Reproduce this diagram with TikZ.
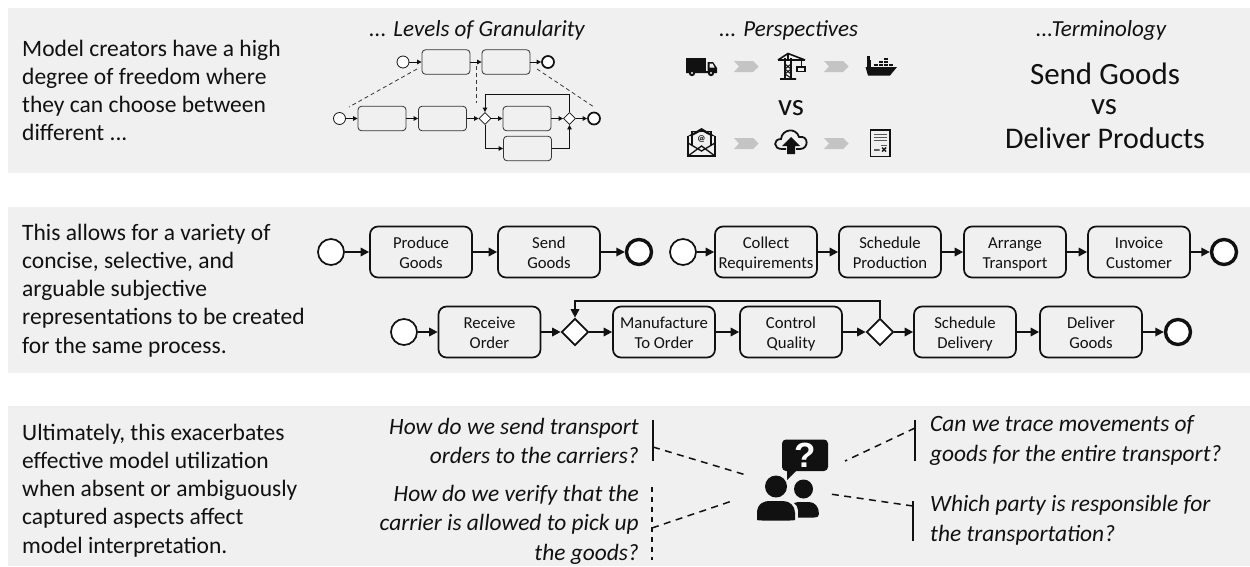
\documentclass[tikz,border=0pt]{standalone}
\usepackage{fontspec}
\setmainfont{Carlito}
\newfontfamily\qmfont{Liberation Sans}
\usetikzlibrary{arrows.meta,shapes.geometric}
\definecolor{panel}{HTML}{F0F0F0}
\definecolor{chev}{HTML}{C4C4C4}
\definecolor{ink}{HTML}{111111}
\newcommand\tasklines[2]{\rule{0pt}{18pt}#1\\#2\rule[-6pt]{0pt}{6pt}}
\tikzset{
 panelbox/.style={fill=panel,draw=none},
 body/.style={font=\fontsize{23.5}{28.2}\selectfont,align=left,anchor=west,text=ink,inner sep=0pt},
 hdr/.style={font=\fontsize{23}{26}\selectfont\itshape,anchor=center,text=ink,inner sep=0pt},
 qr/.style={font=\fontsize{23.4}{29.5}\selectfont\itshape,align=right,anchor=east,text=ink,inner sep=0pt},
 ql/.style={font=\fontsize{23.4}{29.5}\selectfont\itshape,align=left,anchor=west,text=ink,inner sep=0pt},
 bigt/.style={font=\fontsize{31}{36}\selectfont,anchor=center,text=ink,inner sep=0pt},
 task/.style={draw=ink,line width=1.7pt,rounded corners=8pt,minimum width=102pt,minimum height=51pt,align=center,font=\fontsize{16.7}{20}\selectfont,text=ink,inner sep=0pt},
 sev/.style={circle,draw=ink,line width=1.7pt,minimum size=26pt,inner sep=0pt,fill=white},
 eev/.style={circle,draw=ink,line width=3.4pt,minimum size=25pt,inner sep=0pt,fill=white},
 gwbox/.style={draw=ink,line width=1.7pt,diamond,aspect=1,minimum width=27pt,minimum height=27pt,inner sep=0pt,fill=white},
 flow/.style={draw=ink,line width=1.7pt,-{Triangle[length=8.5pt,width=8.5pt]}},
 stask/.style={draw=ink!85,line width=.8pt,rounded corners=3.5pt,minimum width=48pt,minimum height=24.5pt,inner sep=0pt},
 ssev/.style={circle,draw=ink,line width=.8pt,minimum size=12pt,inner sep=0pt,fill=white},
 seev/.style={circle,draw=ink,line width=1.7pt,minimum size=12pt,inner sep=0pt,fill=white},
 sgw/.style={draw=ink,line width=.8pt,diamond,aspect=1,minimum width=12pt,minimum height=12pt,inner sep=0pt,fill=white},
 sflow/.style={draw=ink,line width=.8pt,-{Triangle[length=4.5pt,width=4.5pt]}},
 sdash/.style={draw=ink!85,line width=.8pt,dash pattern=on 4pt off 3pt},
 qdash/.style={draw=ink,line width=1.5pt,dash pattern=on 7pt off 5.5pt},
 brk/.style={draw=ink,line width=1.5pt},
 brkd/.style={draw=ink,line width=1.5pt,dash pattern=on 5pt off 5pt},
 chevron/.style={fill=chev,draw=none},
 icon/.style={fill=ink,draw=none},
}
\begin{document}
\begin{tikzpicture}[x=1pt,y=-1pt]
\useasboundingbox (0,0) rectangle (1250,566);
\fill[white] (0,0) rectangle (1250,566);
\fill[panelbox] (8,8) rectangle (1250,173);
\fill[panelbox] (8,207) rectangle (1250,373);
\fill[panelbox] (8,406) rectangle (1250,566);

% left texts
\node[body] (t1) at (22,90.5) {Model creators have a high\\degree of freedom where\\they can choose between\\different ...};
\node[body] (t2) at (22,290.5) {This allows for a variety of\\concise, selective, and\\arguable subjective\\representations to be created\\for the same process.};
\node[body] (t3) at (22,490.5) {Ultimately, this exacerbates\\effective model utilization\\when absent or ambiguously\\captured aspects affect\\model interpretation.};

% headers
\node[hdr] (h1) at (477,30) {... Levels of Granularity};
\node[hdr] (h2) at (788.5,30) {... Perspectives};
\node[hdr] (h3) at (1101,30) {...Terminology};

% granularity sketch
\node[ssev] (as) at (403,62) {};
\node[stask] (a1) at (446,62) {};
\node[stask] (a2) at (506,62) {};
\node[seev] (ae) at (548,62) {};
\draw[sflow] (as)--(a1);
\draw[sflow] (a1)--(a2);
\draw[sflow] (a2)--(ae);
\node[ssev] (bs) at (339.5,118.5) {};
\node[stask] (b1) at (382,118.5) {};
\node[stask] (b2) at (442.5,118.5) {};
\node[sgw] (bg1) at (485,118.5) {};
\node[stask] (b3) at (527,118.5) {};
\node[sgw] (bg2) at (569.5,118.5) {};
\node[seev] (be) at (594,118.5) {};
\node[stask] (b4) at (527.5,148.5) {};
\draw[sflow] (bs)--(b1);
\draw[sflow] (b1)--(b2);
\draw[sflow] (b2)--(bg1);
\draw[sflow] (bg1)--(b3);
\draw[sflow] (b3)--(bg2);
\draw[sflow] (bg2)--(be);
\draw[sflow] (bg2.north)--(569.5,94)--(485,94)--(bg1.north);
\draw[sflow] (bg1.south)|-(b4.west);
\draw[sflow] (b4.east)-|(bg2.south);
\coordinate (d1a) at (417,69); \coordinate (d1b) at (349,107);
\coordinate (d2a) at (476,66); \coordinate (d2b) at (476,103);
\coordinate (d3a) at (537,69); \coordinate (d3b) at (594,107);
\draw[sdash] (d1a)--(d1b);
\draw[sdash] (d2a)--(d2b);
\draw[sdash] (d3a)--(d3b);

% chevrons
\foreach \x/\y in {734/61,824/61,734/138,824/138}{
 \fill[chevron] (\x,\y)--(\x+19,\y)--(\x+24.5,\y+5.5)--(\x+19,\y+11)--(\x,\y+11)--(\x+5,\y+5.5)--cycle;
}
% truck
\fill[icon] (686,58) rectangle (706,71.5);
\fill[icon] (707.5,62) -- (713,62) -- (717,68) -- (717,73) -- (686,73) -- (686,71) -- (707.5,71)--cycle;
\fill[panel] (709.5,63.5)--(712.5,63.5)--(714.5,67.5)--(709.5,67.5)--cycle;
\fill[icon] (692,73) circle (3.2); \fill[icon] (711,73) circle (3.2);
\fill[panel] (692,73) circle (1.2); \fill[panel] (711,73) circle (1.2);
% crane
\draw[draw=ink,line width=1.6pt] (778,60)--(805,60) (785,58)--(785,78) (791,58)--(791,78);
\draw[draw=ink,line width=1.6pt] (778,60)--(788,53.5)--(805,60) (780,79)--(796,79) (788,53)--(788,60);
\draw[draw=ink,line width=1pt] (785,64)--(791,69)--(785,74)--(791,78) (791,64)--(785,69)--(791,74);
\draw[draw=ink,line width=.9pt] (801,60)--(801,66);
\draw[draw=ink,line width=1.1pt] (797,67) rectangle (805,71.5);
% ship
\fill[icon] (865.5,67)--(897,67)--(890,75.5)--(868,75.5)--cycle;
\fill[icon] (866.5,60)rectangle(871,67); \fill[icon] (867,56)rectangle(870,60);
\foreach \x/\y in {874/63.5,879/63.5,884/63.5,889/63.5,879/60.5,884/60.5,884/57.5}{\fill[icon] (\x,\y) rectangle +(3.6,2.4);}
% mail
\draw[draw=ink,line width=1.6pt,fill=none] (688,136)--(688,156)--(715,156)--(715,136);
\draw[draw=ink,line width=1.3pt,fill=panel] (692,146)--(692,131.5)--(711,131.5)--(711,146);
\fill[icon] (688,136)--(701.5,128)--(715,136)--(711,136)--(701.5,131)--(692,136)--cycle;
\draw[draw=ink,line width=1.3pt] (688,156)--(701.5,146)--(715,156) (688,143)--(701.5,151)--(715,143);
\node[font=\fontsize{9}{9}\selectfont\bfseries,inner sep=0pt,text=ink] (mailat) at (701.5,139) {@};
% cloud
\draw[draw=ink,line width=1.8pt,fill=none] (786,149)--(782,149) .. controls (773,149) and (773,139) .. (781,139) .. controls (782,129) and (796,127) .. (799,137) .. controls (809,135) and (809,149) .. (800,149)--(796,149);
\fill[icon] (791,137)--(800,146)--(795,146)--(795,154)--(787,154)--(787,146)--(782,146)--cycle;
% document
\draw[draw=ink,line width=1.8pt,fill=none] (870.5,130)rectangle(890,156.5);
\draw[draw=ink!70,line width=1pt] (873.5,134.5)--(887,134.5) (873.5,137.5)--(887,137.5) (873.5,140.5)--(887,140.5) (881,145)--(887,145);
\draw[draw=ink,line width=1.4pt] (874,150)--(879.5,150) (882,147.5)--(886,151.5) (886,147.5)--(882,151.5);

\node[bigt] (vs1) at (791,108) {vs};
\node[bigt] (s1) at (1105,74) {Send Goods};
\node[bigt] (vs2) at (1104,107) {vs};
\node[bigt,font=\fontsize{30}{36}\selectfont] (s2) at (1105,138) {Deliver Products};

% row 1 process
\node[sev] (s) at (331,252) {};
\node[task] (p1) at (421,252) {\tasklines{Produce}{Goods}};
\node[task] (p2) at (549,252) {\tasklines{Send}{Goods}};
\node[eev] (e) at (639,252) {};
\draw[flow] (s)--(p1);
\draw[flow] (p1)--(p2);
\draw[flow] (p2)--(e);
\node[sev] (s3) at (683,252) {};
\node[task] (c1) at (766,252) {\tasklines{Collect}{Requirements}};
\node[task] (c2) at (890,252) {\tasklines{Schedule}{Production}};
\node[task] (c3) at (1015,252) {\tasklines{Arrange}{Transport}};
\node[task] (c4) at (1139,252) {\tasklines{Invoice}{Customer}};
\node[eev] (e3) at (1224,252) {};
\draw[flow] (s3)--(c1);
\draw[flow] (c1)--(c2);
\draw[flow] (c2)--(c3);
\draw[flow] (c3)--(c4);
\draw[flow] (c4)--(e3);
% row 2 process
\node[sev] (s2e) at (404,332) {};
\node[task] (r1) at (489.5,332) {\tasklines{Receive}{Order}};
\node[gwbox] (g1) at (575,332) {};
\node[task] (r2) at (664,332) {\tasklines{Manufacture}{To Order}};
\node[task] (r3) at (791,332) {\tasklines{Control}{Quality}};
\node[gwbox] (g2) at (880,332) {};
\node[task] (r4) at (965,332) {\tasklines{Schedule}{Delivery}};
\node[task] (r5) at (1091,332) {\tasklines{Deliver}{Goods}};
\node[eev] (e2) at (1178,332) {};
\draw[flow] (s2e)--(r1);
\draw[flow] (r1)--(g1);
\draw[flow] (g1)--(r2);
\draw[flow] (r2)--(r3);
\draw[flow] (r3)--(g2);
\draw[flow] (g2)--(r4);
\draw[flow] (r4)--(r5);
\draw[flow] (r5)--(e2);
\draw[flow] (g2.north)--(880,301)--(575,301)--(g1.north);

% questions
\node[qr] (q1) at (639,441) {How do we send transport\\orders to the carriers?};
\node[qr] (q2) at (639,524.5) {How do we verify that the\\carrier is allowed to pick up\\the goods?};
\node[ql] (q3) at (930,440.5) {Can we trace movements of\\goods for the entire transport?};
\node[ql] (q4) at (930,520.5) {Which party is responsible for\\the transportation?};

\coordinate (b1t) at (653,420); \coordinate (b1b) at (653,461);
\coordinate (b2t) at (652,487); \coordinate (b2b) at (652,560);
\coordinate (b3t) at (915,420); \coordinate (b3b) at (915,461);
\coordinate (b4t) at (913,501); \coordinate (b4b) at (913,541);
\draw[brk] (b1t)--(b1b);
\draw[brkd] (b2t)--(b2b);
\draw[brk] (b3t)--(b3b);
\draw[brk] (b4t)--(b4b);
\coordinate (l1a) at (653,447); \coordinate (l1b) at (746,475);
\coordinate (l2a) at (652,528); \coordinate (l2b) at (732,501);
\coordinate (l3a) at (915,428); \coordinate (l3b) at (845,461);
\coordinate (l4a) at (913,506); \coordinate (l4b) at (830,494);
\draw[qdash] (l1a)--(l1b);
\draw[qdash] (l2a)--(l2b);
\draw[qdash] (l3a)--(l3b);
\draw[qdash] (l4a)--(l4b);

% people icon
\fill[icon,rounded corners=4pt] (782,439.5) rectangle (828,471);
\fill[icon] (787,468)--(787,480)--(797,470)--cycle;
\node[font=\fontsize{35}{35}\selectfont\bfseries\qmfont,text=white,inner sep=0pt] (qm) at (805,455) {?};
\fill[icon] (776,486.5) circle (11);
\fill[icon] (803.5,489) circle (9.5);
\fill[icon] (757,520) -- (757,513) .. controls (757,503) and (765,501) .. (769,501) -- (783,501) .. controls (790,501) and (795,506) .. (795,513) -- (795,520) .. controls (795,520) and (793,520.5) .. (790,520.5) -- (762,520.5) .. controls (759,520.5) and (757,520) .. (757,520) -- cycle;
\fill[icon] (798,502) -- (809,502) .. controls (815,502) and (819,507) .. (819,514) .. controls (819,517) and (817,517.5) .. (814,517.5) -- (798,517.5) -- (798,510) .. controls (798,507) and (796,504) .. (794,503) -- cycle;
\end{tikzpicture}
\end{document}
